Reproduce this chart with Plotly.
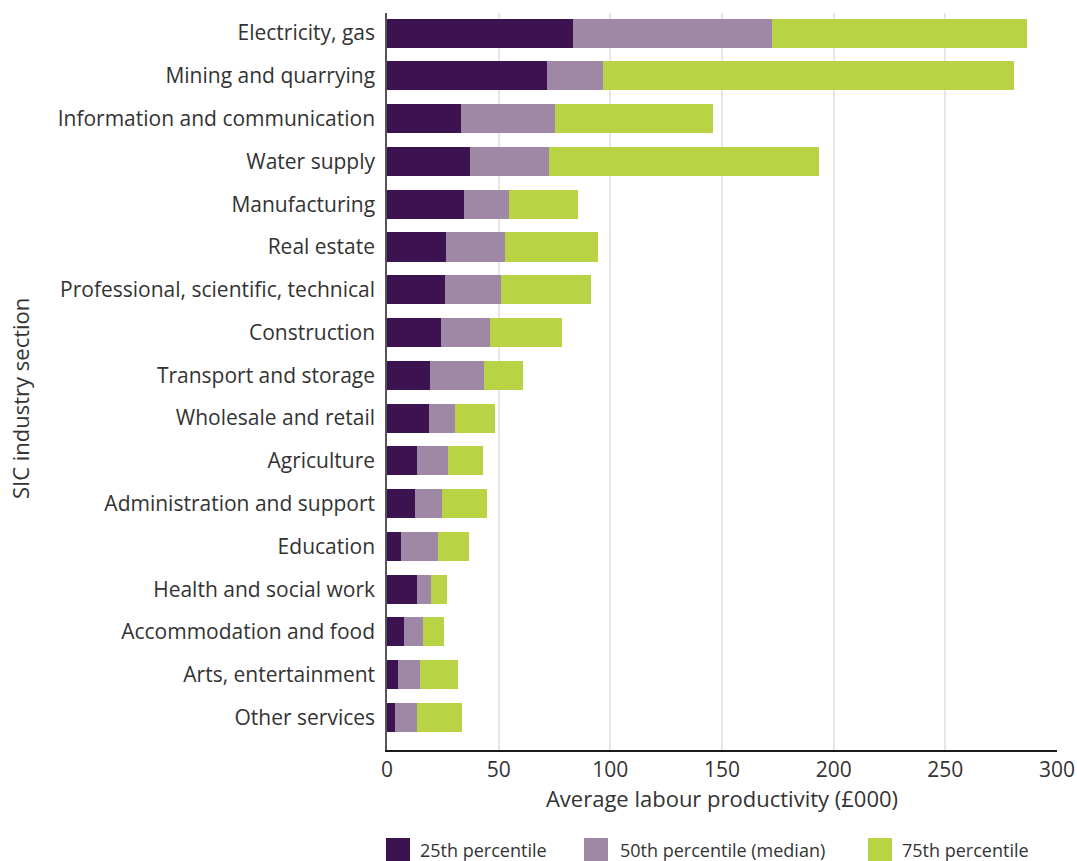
import plotly.graph_objects as go

# Industry sections, listed top to bottom
sections = [
    "Electricity, gas",
    "Mining and quarrying",
    "Information and communication",
    "Water supply",
    "Manufacturing",
    "Real estate",
    "Professional, scientific, technical",
    "Construction",
    "Transport and storage",
    "Wholesale and retail",
    "Agriculture",
    "Administration and support",
    "Education",
    "Health and social work",
    "Accommodation and food",
    "Arts, entertainment",
    "Other services",
]

# Average labour productivity (£000) at each percentile
p25 = [83.3, 71.6, 33.1, 37.1, 34.3, 26.4, 25.8, 24.3, 19.1, 18.8,
       13.4, 12.7, 6.3, 13.4, 7.5, 4.7, 3.5]
p50 = [172.6, 96.6, 75.0, 72.6, 54.5, 52.7, 50.9, 46.0, 43.6, 30.3,
       27.2, 24.8, 23.0, 19.7, 16.3, 14.6, 13.3]
p75 = [286.7, 280.8, 145.8, 193.5, 85.6, 94.3, 91.2, 78.4, 60.9, 48.2,
       42.9, 44.6, 36.9, 27.0, 25.3, 31.8, 33.7]

series_names = ["25th percentile", "50th percentile (median)", "75th percentile"]
colors = ["#3d1250", "#9e88a6", "#b8d444"]

x_ticks = [0, 50, 100, 150, 200, 250, 300]

FONT = "Open Sans"
TEXT = "#333333"

# Stacked segments: 0 -> p25 -> p50 -> p75
seg1 = p25
seg2 = [b - a for a, b in zip(p25, p50)]
seg3 = [c - b for b, c in zip(p50, p75)]

fig = go.Figure()
for name, seg, col in zip(series_names, [seg1, seg2, seg3], colors):
    fig.add_trace(go.Bar(
        y=sections, x=seg, name=name, orientation="h",
        marker=dict(color=col, line=dict(width=0)),
        width=0.68, showlegend=False,
    ))

ML, MR, MT, MB = 387, 20, 13, 111
W, H = 1077, 861
n = len(sections)

fig.update_layout(
    width=W, height=H,
    margin=dict(l=ML, r=MR, t=MT, b=MB, autoexpand=False),
    barmode="stack",
    bargap=0.32,
    plot_bgcolor="white", paper_bgcolor="white",
    font=dict(family=FONT, size=18, color=TEXT),
)

fig.update_xaxes(
    range=[0, 300], tickvals=x_ticks, ticktext=[str(v) for v in x_ticks],
    showgrid=True, gridcolor="#e9e6e6", gridwidth=1.5,
    zeroline=False, showline=True, linecolor="#1a1a1a", linewidth=1.5,
    ticks="", tickfont=dict(size=21, color=TEXT, family=FONT),
    title=dict(text="Average labour productivity (£000)",
               font=dict(size=22, color=TEXT, family=FONT), standoff=10),
    automargin=False,
)

fig.update_yaxes(
    categoryorder="array", categoryarray=sections[::-1],
    range=[-0.76, n - 0.53],
    showgrid=False, zeroline=False,
    showline=True, linecolor="#555555", linewidth=1.5,
    ticks="", ticklabelstandoff=6,
    tickfont=dict(size=21, color=TEXT, family=FONT),
    automargin=False,
)

plot_w = W - ML - MR
plot_h = H - MT - MB
def px_to_paper_x(px):
    return (px - ML) / plot_w
def px_to_paper_y(py):
    return (H - MB - py) / plot_h

# Vertical axis title
fig.add_annotation(
    xref="paper", yref="paper",
    x=px_to_paper_x(20), y=px_to_paper_y(398),
    text="SIC industry section", textangle=-90, showarrow=False,
    xanchor="center", yanchor="middle",
    font=dict(size=22, color=TEXT, family=FONT),
)

# Legend drawn as swatches and labels beneath the axis title
swatch_left = [386, 584, 868]
label_left = [418, 618, 900]
for sx, lx, name, col in zip(swatch_left, label_left, series_names, colors):
    fig.add_shape(
        type="rect", xref="paper", yref="paper",
        x0=px_to_paper_x(sx), x1=px_to_paper_x(sx + 24),
        y0=px_to_paper_y(838), y1=px_to_paper_y(862),
        fillcolor=col, line=dict(width=0),
    )
    fig.add_annotation(
        xref="paper", yref="paper",
        x=px_to_paper_x(lx), y=px_to_paper_y(850),
        text=name, showarrow=False, xanchor="left", yanchor="middle",
        font=dict(size=18, color=TEXT, family=FONT),
    )

fig.write_html("out.html")
